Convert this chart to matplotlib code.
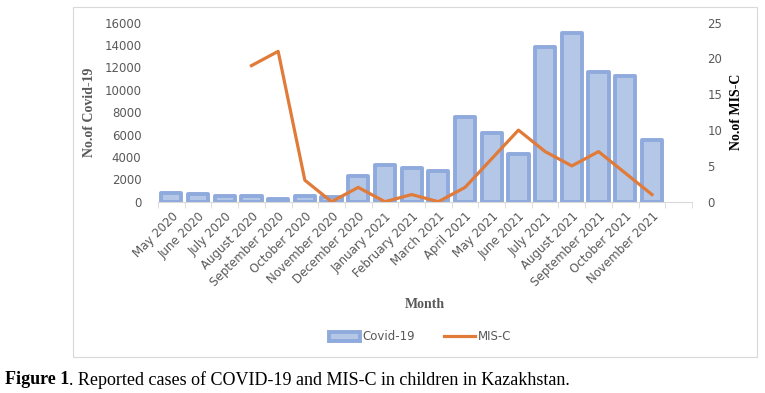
import numpy as np
import matplotlib.pyplot as plt
from matplotlib.patches import Rectangle

months = ["May 2020", "June 2020", "July 2020", "August 2020", "September 2020",
          "October 2020", "November 2020", "December 2020", "January 2021",
          "February 2021", "March 2021", "April 2021", "May 2021", "June 2021",
          "July 2021", "August 2021", "September 2021", "October 2021",
          "November 2021", ""]
covid = [800, 650, 550, 480, 280, 550, 380, 2300, 3300, 2980, 2770, 7600,
         6100, 4300, 13850, 15050, 11600, 11200, 5500, np.nan]
misc = [np.nan, np.nan, np.nan, 19, 21, 3, 0, 2, 0, 1, 0, 2, 6, 10, 7, 5, 7, 4, 1, np.nan]

bar_face = "#b4c7e7"
bar_edge = "#8faadc"
line_col = "#e07b39"
gray = "#595959"

fig = plt.figure(figsize=(7.65, 3.93), dpi=100)
# light chart border
fig.patches.append(Rectangle((73/765, 1-357/393), (757-73)/765, (357-7)/393,
                             transform=fig.transFigure, fill=False,
                             edgecolor="#d9d9d9", linewidth=0.8))

ax = fig.add_axes([158/765, 1-201.7/393, (692-158)/765, (201.7-22.7)/393])
x = np.arange(len(months))
ax.bar(x, covid, width=0.76, color=bar_face, edgecolor=bar_edge,
       linewidth=2.8, joinstyle="round", label="Covid-19", zorder=2)
ax.set_xlim(-0.5, len(months)-0.5)
ax.set_ylim(0, 16000)
ax.set_yticks(range(0, 16001, 2000))
for s in ["top", "left", "right"]:
    ax.spines[s].set_visible(False)
ax.spines["bottom"].set_color("#d9d9d9")
ax.spines["bottom"].set_zorder(1)
ax.tick_params(axis="y", length=0, pad=12, labelsize=8.5, labelcolor=gray)
ax.set_xticks(x)
ax.set_xticklabels(months, rotation=45, ha="right", rotation_mode="anchor",
                   fontsize=8.5, color=gray)
ax.tick_params(axis="x", which="major", length=0, pad=6)
ax.set_xticks(np.arange(-0.5, len(months), 1), minor=True)
ax.tick_params(axis="x", which="minor", length=4, color="#d9d9d9")
ax.set_ylabel("No.of Covid-19", family="Liberation Serif", fontweight="bold",
              fontsize=10, color=gray, labelpad=6)
ax.set_xlabel("Month", family="Liberation Serif", fontweight="bold",
              fontsize=10, color=gray, labelpad=6)

ax2 = ax.twinx()
ax2.plot(x, misc, color=line_col, linewidth=2.3, label="MIS-C", zorder=3)
ax2.set_ylim(0, 25)
ax2.set_yticks(range(0, 26, 5))
for s in ["top", "left", "right", "bottom"]:
    ax2.spines[s].set_visible(False)
ax2.tick_params(axis="y", length=0, pad=11, labelsize=8.5, labelcolor=gray)
ax2.set_ylabel("No.of MIS-C", family="Liberation Serif", fontweight="bold",
               fontsize=10, color="black", labelpad=6)

h1, l1 = ax.get_legend_handles_labels()
h2, l2 = ax2.get_legend_handles_labels()
fig.legend(h1 + h2, l1 + l2, loc="center", bbox_to_anchor=(420/765, 1-337/393),
           ncol=2, frameon=False, fontsize=8.5, labelcolor=gray,
           handlelength=2.6, columnspacing=2.5, handletextpad=0.2)

# caption, bold "Figure 1" then the rest
t = fig.text(5/765, 1-380/393, "Figure 1", fontsize=13, va="center",
             family="Liberation Serif", fontweight="bold", color="black")
fig.canvas.draw()
bb = t.get_window_extent()
fig.text(bb.x1/765, 1-380/393, ". Reported cases of COVID-19 and MIS-C in children in Kazakhstan.",
         fontsize=13, va="center", family="Liberation Serif", color="black")

fig.savefig("out.png", dpi=100)
